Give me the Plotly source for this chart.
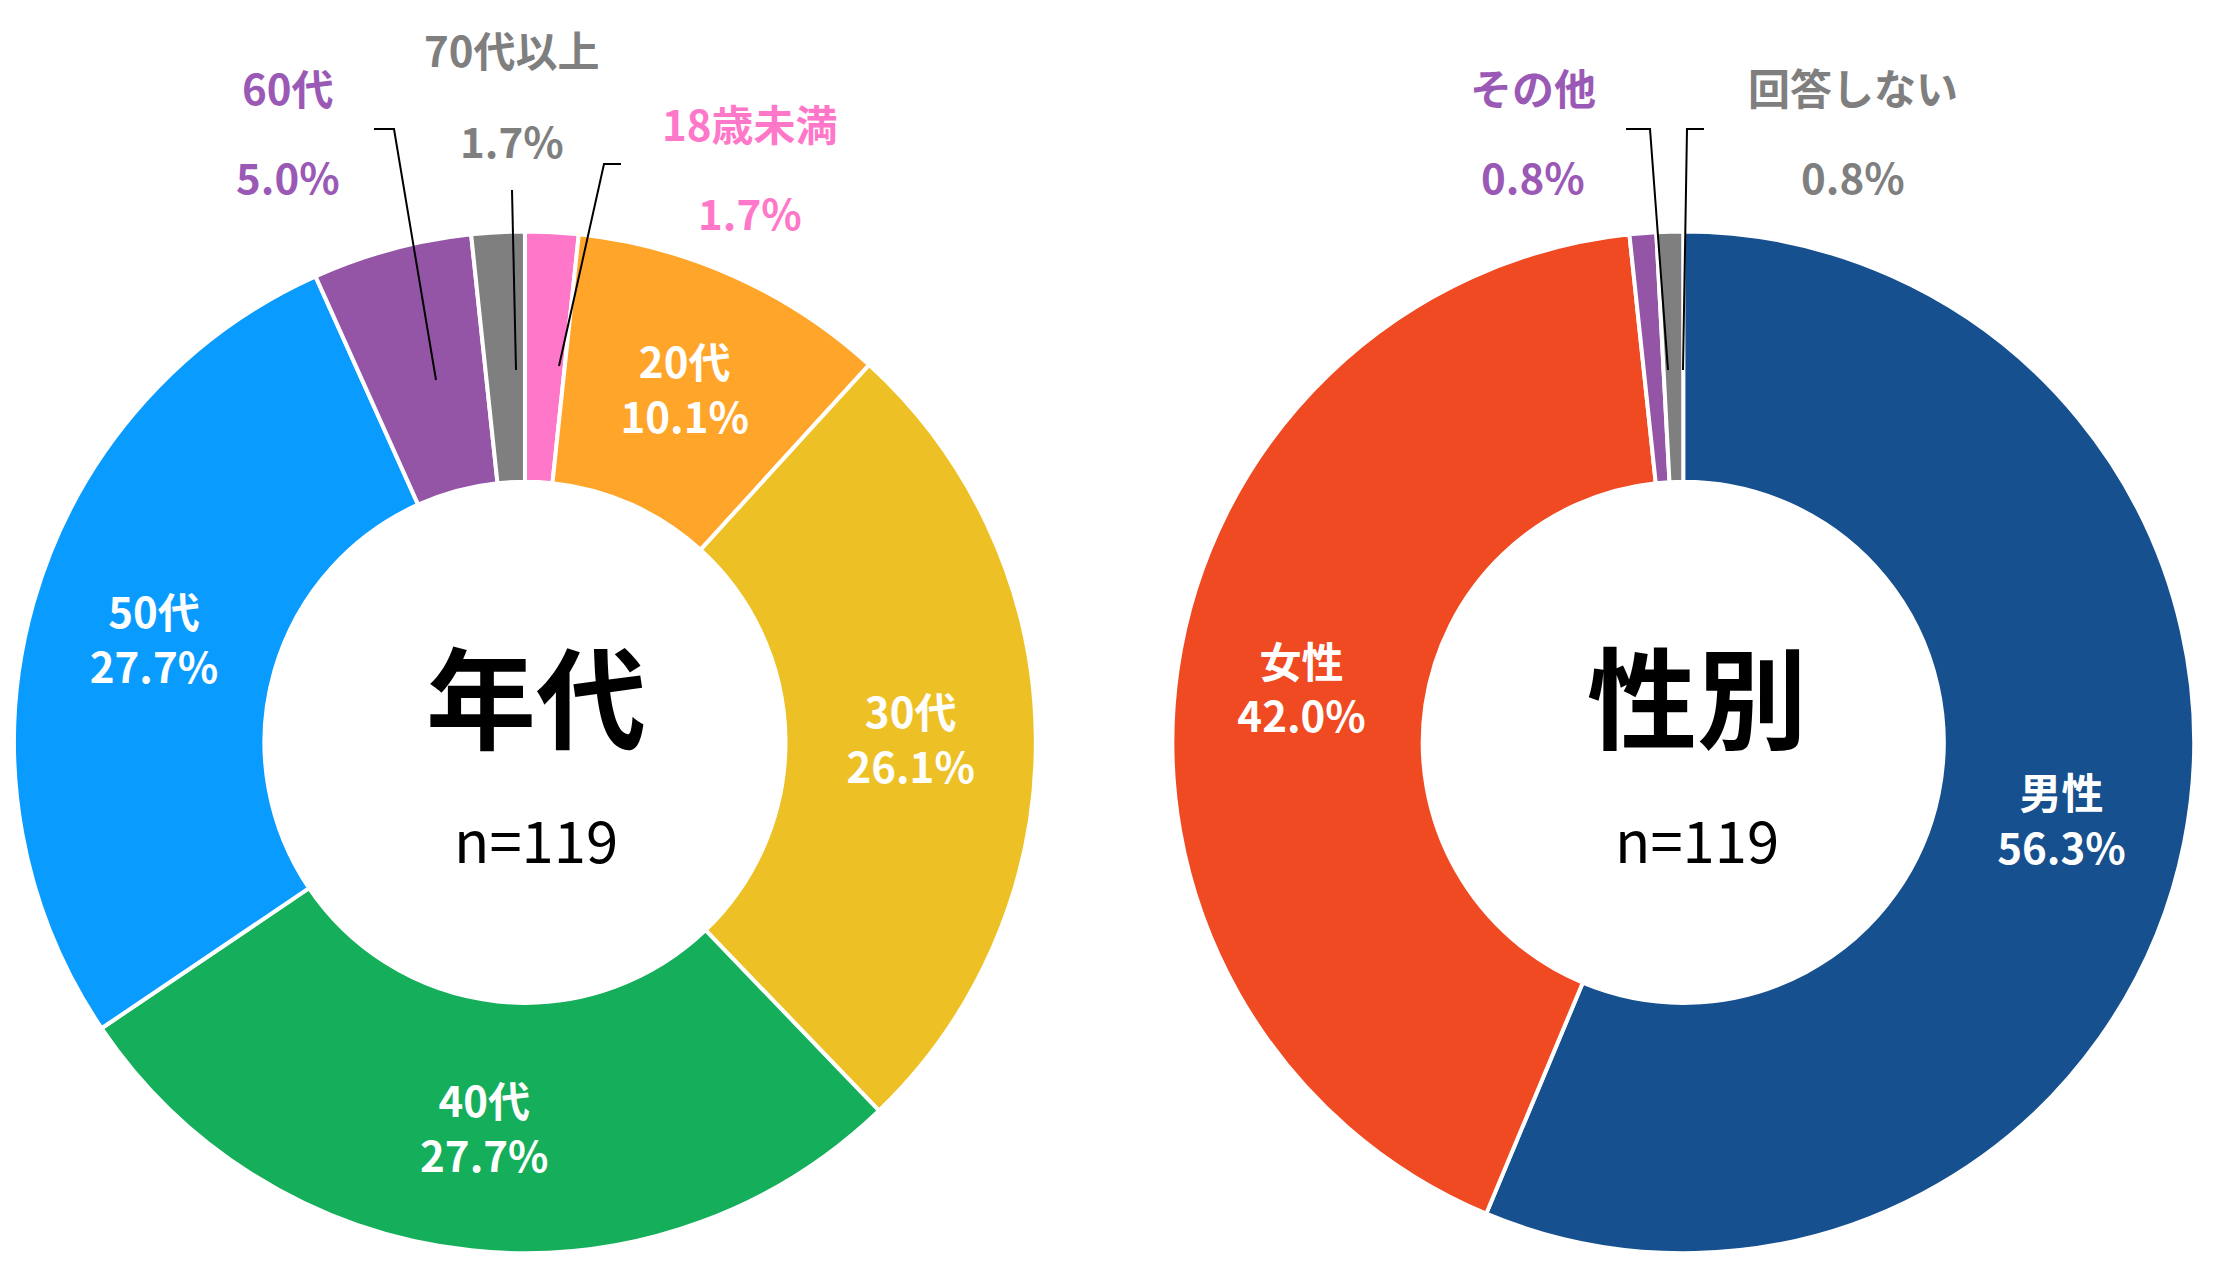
import plotly.graph_objects as go

W, H = 2213, 1274
age_labels = ["18歳未満", "20代", "30代", "40代", "50代", "60代", "70代以上"]
age_counts = [2, 12, 31, 33, 33, 6, 2]
age_colors = ["#FF77C8", "#FFA52A", "#EDC125", "#15AE5A", "#0A9BFF", "#9455A7", "#7F7F7F"]
age_inside = [False, True, True, True, True, False, False]

sex_labels = ["男性", "女性", "その他", "回答しない"]
sex_counts = [67, 50, 1, 1]
sex_colors = ["#17508E", "#F04A22", "#9455A7", "#7F7F7F"]
sex_inside = [True, True, False, False]

FONT = "Noto Sans CJK JP"
tmpl = "<b>%{label}</b><br><b>%{percent:.1%}</b>"

def pie(labels, vals, colors, inside, dom):
    return go.Pie(labels=labels, values=vals, sort=False, direction="clockwise", rotation=0,
                  hole=0.51, marker=dict(colors=colors, line=dict(color="white", width=4)),
                  texttemplate=[tmpl if i else "" for i in inside], textposition="inside",
                  insidetextorientation="horizontal",
                  textfont=dict(color="white", size=42, family=FONT),
                  domain=dom, showlegend=False, hoverinfo="label+percent")

fig = go.Figure()
fig.add_trace(pie(age_labels, age_counts, age_colors, age_inside,
                  dict(x=[0.0027, 0.4645], y=[0.0226, 0.8246])))
fig.add_trace(pie(sex_labels, sex_counts, sex_colors, sex_inside,
                  dict(x=[0.526, 0.988], y=[0.0226, 0.8246])))

fig.update_xaxes(range=[0, W], visible=False, fixedrange=True)
fig.update_yaxes(range=[H, 0], visible=False, fixedrange=True)

def ann(x, y, text, color, size=42, bold=True):
    t = f"<b>{text}</b>" if bold else text
    fig.add_annotation(x=x, y=y, text=t, showarrow=False,
                       font=dict(size=size, color=color, family=FONT))

ann(528, 685, "年代", "black", 110)
ann(528, 830, "n=119", "black", 58, bold=False)
ann(1689, 685, "性別", "black", 110)
ann(1689, 830, "n=119", "black", 58, bold=False)

outside = [
    ("60代", "5.0%", 280, 78, 167, "#9B59B6", [(366, 121), (386, 121), (428, 372)]),
    ("70代以上", "1.7%", 504, 40, 131, "#7F7F7F", [(504, 182), (504, 182), (508, 362)]),
    ("18歳未満", "1.7%", 742, 114, 203, "#FF77C8", [(613, 156), (596, 156), (551, 358)]),
    ("その他", "0.8%", 1525, 78, 167, "#9B59B6", [(1618, 121), (1642, 121), (1660, 362)]),
    ("回答しない", "0.8%", 1845, 78, 167, "#7F7F7F", [(1696, 121), (1679, 121), (1675, 362)]),
]
for name, pct, x, y1, y2, col, pts in outside:
    ann(x, y1, name, col)
    ann(x, y2, pct, col)
    path = "M " + " L ".join(f"{px},{py}" for px, py in pts)
    fig.add_shape(type="path", path=path, xref="x", yref="y",
                  line=dict(color="black", width=2))

fig.update_layout(width=W, height=H, margin=dict(l=0, r=0, t=0, b=0),
                  paper_bgcolor="white", plot_bgcolor="rgba(0,0,0,0)",
                  font=dict(family=FONT))
fig.write_html("out.html")
